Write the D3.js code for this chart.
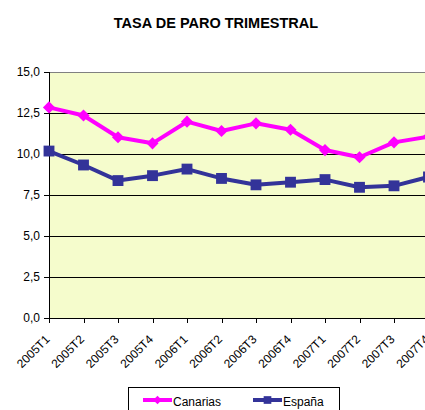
<!DOCTYPE html>
<html>
<head>
<meta charset="utf-8">
<script src="https://cdn.jsdelivr.net/npm/d3@7/dist/d3.min.js"></script>
<style>
  html, body { margin: 0; padding: 0; background: #fff; }
  svg { display: block; font-family: Arial, "Liberation Sans", sans-serif; }
</style>
</head>
<body>
<svg id="chart" width="425" height="410"></svg>
<script>
// Quarterly unemployment rate (%)
const quarters = ["2005T1","2005T2","2005T3","2005T4","2006T1","2006T2","2006T3","2006T4","2007T1","2007T2","2007T3","2007T4"];
const canarias = [12.84, 12.35, 11.02, 10.65, 11.97, 11.40, 11.87, 11.48, 10.24, 9.80, 10.71, 11.05];
const espana   = [10.18, 9.33, 8.38, 8.68, 9.08, 8.51, 8.12, 8.28, 8.44, 7.97, 8.06, 8.60];
const yTicks = [0, 2.5, 5, 7.5, 10, 12.5, 15];
const seriesNames = ["Canarias", "España"];

const svg = d3.select("#chart");
const plot = { left: 49, top: 72, bottom: 318, right: 445 };
const font = "Arial, 'Liberation Sans', sans-serif";

const x = d3.scalePoint().domain(quarters).range([plot.left, plot.left + 34.5 * 11]);
const y = d3.scaleLinear().domain([0, 15]).range([plot.bottom, plot.top]);
const fmt = v => d3.format(".1f")(v).replace(".", ",");

// Title
svg.append("text")
  .attr("x", 216).attr("y", 28)
  .attr("text-anchor", "middle")
  .attr("font-size", 14.5).attr("font-weight", "bold")
  .text("TASA DE PARO TRIMESTRAL");

// Plot area background
svg.append("rect")
  .attr("x", plot.left).attr("y", plot.top)
  .attr("width", plot.right - plot.left).attr("height", plot.bottom - plot.top)
  .attr("fill", "#F5FCCC");

// Horizontal gridlines
svg.append("g").selectAll("line")
  .data(yTicks.filter(d => d > 0 && d < 15))
  .join("line")
  .attr("x1", plot.left).attr("x2", plot.right)
  .attr("y1", d => y(d)).attr("y2", d => y(d))
  .attr("stroke", "#000").attr("stroke-width", 1).attr("shape-rendering", "crispEdges");

// Top border of the plot area
svg.append("line")
  .attr("x1", plot.left).attr("x2", plot.right)
  .attr("y1", plot.top).attr("y2", plot.top)
  .attr("stroke", "#808080").attr("stroke-width", 1).attr("shape-rendering", "crispEdges");

// Y axis
const yAxis = svg.append("g")
  .attr("transform", `translate(${plot.left},0)`)
  .call(d3.axisLeft(y).tickValues(yTicks).tickFormat(fmt).tickSize(5).tickPadding(4));
yAxis.selectAll("path, line").attr("stroke", "#000").attr("shape-rendering", "crispEdges");
yAxis.selectAll("text").attr("font-size", 12).attr("fill", "#000").attr("font-family", font);

// X axis
const xAxis = svg.append("g")
  .attr("transform", `translate(0,${plot.bottom})`)
  .call(d3.axisBottom(x).tickSize(5).tickSizeOuter(0));
xAxis.select("path").attr("d", `M${plot.left},0H${plot.right}`).attr("stroke", "#000")
  .attr("shape-rendering", "crispEdges");
xAxis.selectAll("line").attr("stroke", "#000").attr("shape-rendering", "crispEdges");
xAxis.selectAll("text")
  .attr("font-size", 12).attr("fill", "#000").attr("font-family", font)
  .attr("text-anchor", "end")
  .attr("dy", null).attr("y", 0)
  .attr("transform", "translate(1,22) rotate(-45)");

// Series
const series = [
  { name: seriesNames[0], values: canarias, color: "#FF00FF", symbol: d3.symbolSquare, size: 74, rot: 45 },
  { name: seriesNames[1], values: espana, color: "#333399", symbol: d3.symbolSquare, size: 118, rot: 0 }
];

const line = d3.line().x((d, i) => x(quarters[i])).y(d => y(d));

// España first so Canarias sits above
[series[1], series[0]].forEach(s => {
  const g = svg.append("g");
  g.append("path")
    .datum(s.values)
    .attr("d", line)
    .attr("fill", "none")
    .attr("stroke", s.color)
    .attr("stroke-width", 4)
    .attr("stroke-linejoin", "round");
  g.selectAll("path.mk")
    .data(s.values)
    .join("path")
    .attr("class", "mk")
    .attr("d", d3.symbol(s.symbol, s.size))
    .attr("transform", (d, i) => `translate(${x(quarters[i])},${y(d)}) rotate(${s.rot})`)
    .attr("fill", s.color);
});

// Legend
const legend = svg.append("g");
legend.append("rect")
  .attr("x", 128.5).attr("y", 387.5).attr("width", 211).attr("height", 40)
  .attr("fill", "#fff").attr("stroke", "#000").attr("stroke-width", 1);

const legendItems = [
  { s: series[0], x: 143 },
  { s: series[1], x: 253 }
];
legendItems.forEach(it => {
  const ly = 400;
  legend.append("line")
    .attr("x1", it.x).attr("x2", it.x + 29)
    .attr("y1", ly).attr("y2", ly)
    .attr("stroke", it.s.color).attr("stroke-width", 4);
  legend.append("path")
    .attr("d", d3.symbol(it.s.symbol, it.s.size * 0.5))
    .attr("transform", `translate(${it.x + 14.5},${ly}) rotate(${it.s.rot})`)
    .attr("fill", it.s.color);
  legend.append("text")
    .attr("x", it.x + 30).attr("y", ly + 6)
    .attr("font-size", 12).attr("fill", "#000")
    .text(it.s.name);
});
</script>
</body>
</html>
